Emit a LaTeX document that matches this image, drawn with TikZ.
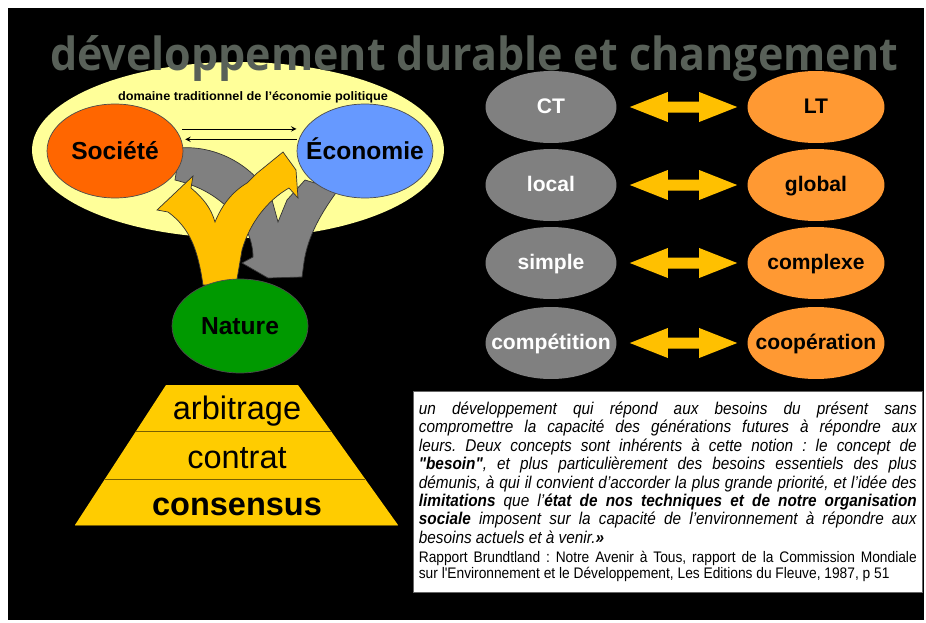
\documentclass[tikz,border=0pt]{standalone}
\usepackage{fontspec}
\setmainfont{Liberation Sans}
\newfontfamily\titlefont{Open Sans}
\newfontfamily\quotefont[FakeStretch=0.9]{Liberation Sans}
\usepackage{graphicx}
\usetikzlibrary{shapes.geometric,calc}

\definecolor{titlegray}{RGB}{88,96,88}
\definecolor{paleyellow}{RGB}{255,255,153}
\definecolor{socorange}{RGB}{255,102,0}
\definecolor{ecoblue}{RGB}{102,153,255}
\definecolor{natgreen}{RGB}{0,153,0}
\definecolor{arrowgold}{RGB}{255,192,0}
\definecolor{pyrgold}{RGB}{255,204,0}
\definecolor{pyrline}{RGB}{120,95,0}
\definecolor{midgray}{RGB}{128,128,128}
\definecolor{ltorange}{RGB}{255,153,51}

% label of zero width, so that the ellipse keeps its size
\newcommand{\lab}[1]{\makebox[0pt]{#1}}

\tikzset{
  pole/.style={ellipse, draw=black!70, line width=0.4pt, minimum width=2.72cm,
    minimum height=1.88cm, inner sep=0pt, text height=12pt, text depth=1.8pt,
    font=\fontsize{14}{16}\selectfont\bfseries},
  shortterm/.style={ellipse, fill=midgray, text=white, minimum width=2.62cm,
    minimum height=1.44cm, inner sep=0pt, text height=9.4pt, text depth=2pt,
    font=\fontsize{12}{14}\selectfont\bfseries},
  longterm/.style={ellipse, fill=ltorange, minimum width=2.74cm,
    minimum height=1.44cm, inner sep=0pt, text height=9.4pt, text depth=2pt,
    font=\fontsize{12}{14}\selectfont\bfseries},
  blockarrow/.style={fill=arrowgold},
  flow/.style={draw=black!80, line width=0.4pt},
  layer/.style={anchor=base, font=\fontsize{18.5}{20}\selectfont},
}

\begin{document}
\begin{tikzpicture}[x=0.02cm, y=-0.02cm]

\useasboundingbox (0,0) rectangle (926,622);
\fill[white] (0,0) rectangle (926,622);
\fill[black] (8,8) rectangle (924,620);

% domaine traditionnel
\node[ellipse, fill=paleyellow, minimum width=8.24cm, minimum height=3.52cm] (domain) at (238,150) {};
\node[inner sep=0pt] (domainlabel) at (253,97)
  {\resizebox{5.4cm}{0.18cm}{\bfseries domaine traditionnel de l'économie politique}};

\node[anchor=base, text=titlegray, inner sep=0pt] (title) at (474,70)
  {\resizebox{16.96cm}{0.7cm}{\titlefont\bfseries développement durable et changement}};

% gray flows towards nature
\filldraw[flow, fill=midgray] (180,148) .. controls (215,145) and (255,165) .. (272,200)
  -- (278,222) -- (287,200) -- (305,180) -- (338,190)
  .. controls (322,212) and (308,235) .. (304,262) -- (302,277) -- (268,278)
  -- (242,263) -- (253,257) .. controls (253,240) and (245,220) .. (225,205)
  .. controls (210,192) and (195,185) .. (175,180) -- cycle;

\node[pole, fill=socorange] (soc) at (115,151) {\lab{Société}};
\node[pole, fill=ecoblue] (eco) at (365,151) {\lab{Économie}};

\draw[->, >=stealth, shorten <=0.14cm, shorten >=0.16cm] (soc.20) -- (eco.160);
\draw[->, >=stealth, shorten <=0.04cm, shorten >=0.08cm] (eco.170) -- (soc.10);

% yellow flows from nature
\filldraw[flow, fill=arrowgold] (203,285) .. controls (198,250) and (190,228) .. (168,212)
  -- (157,210) -- (193,176) -- (191,188) .. controls (203,198) and (211,208) .. (215,222)
  .. controls (222,205) and (232,192) .. (247,183) -- (256,174) -- (283,152)
  -- (296,170) -- (298,198) -- (289,188) .. controls (268,200) and (250,222) .. (242,250)
  -- (236,285) -- cycle;

\node[pole, fill=natgreen] (nat) at (240,326) {\lab{Nature}};

% pyramid
\fill[pyrgold] (166,385) -- (298,385) -- (398,525) -- (75,525) -- cycle;
\draw[pyrline] (136,431) -- (331,431);
\draw[pyrline] (105,479) -- (365,479);
\draw[pyrline] (75,525) -- (398,525);
\node[layer] (arb) at (237,419) {arbitrage};
\node[layer] (con) at (237,468) {contrat};
\node[layer] (cons) at (237,515) {\bfseries consensus};

% short term / long term
\foreach \y/\l/\r/\n in {107/CT/LT/1, 185/local/global/2, 263/simple/complexe/3,
                         343/compétition/coopération/4} {
  \node[shortterm] (g\n) at (551,\y) {\lab{\l}};
  \node[longterm] (o\n) at (816,\y) {\lab{\r}};
  \coordinate (a\n) at ($(g\n.east)+(13,0)$);
  \coordinate (b\n) at ($(o\n.west)+(-10,0)$);
  \fill[blockarrow] (a\n) -- ++(38,-15) -- ++(0,9.5) -- ($(b\n)+(-38,-5.5)$) -- ++(0,-9.5)
    -- (b\n) -- ++(-38,15) -- ++(0,-9.5) -- ($(a\n)+(38,5.5)$) -- ++(0,9.5) -- cycle;
}

% Brundtland
\node[draw=black!60, fill=white, anchor=north west, text width=9.96cm, inner xsep=0.11cm,
  inner ysep=0pt, minimum height=4.02cm, align=justify] (quote) at (413,391) {%
  \tolerance=10000\hyphenpenalty=10000\frenchspacing
  {\quotefont\fontsize{9.7}{10.5}\selectfont\itshape
  un développement qui répond aux besoins du présent sans\linebreak
  compromettre la capacité des générations futures à répondre aux\linebreak
  leurs. Deux concepts sont inhérents à cette notion : le concept de\linebreak
  \textbf{"besoin"}, et plus particulièrement des besoins essentiels des plus\linebreak
  démunis, à qui il convient d’accorder la plus grande priorité, et l’idée des\linebreak
  \textbf{limitations} que l’\textbf{état de nos techniques et de notre organisation}\linebreak
  \textbf{sociale} imposent sur la capacité de l’environnement à répondre aux\linebreak
  besoins actuels et à venir.\textbf{»}\par}
  \vspace{2pt}
  {\quotefont\fontsize{8.7}{9.1}\selectfont
  Rapport Brundtland : Notre Avenir à Tous, rapport de la Commission Mondiale\linebreak
  sur l'Environnement et le Développement, Les Editions du Fleuve, 1987, p 51\par}};

\end{tikzpicture}
\end{document}
